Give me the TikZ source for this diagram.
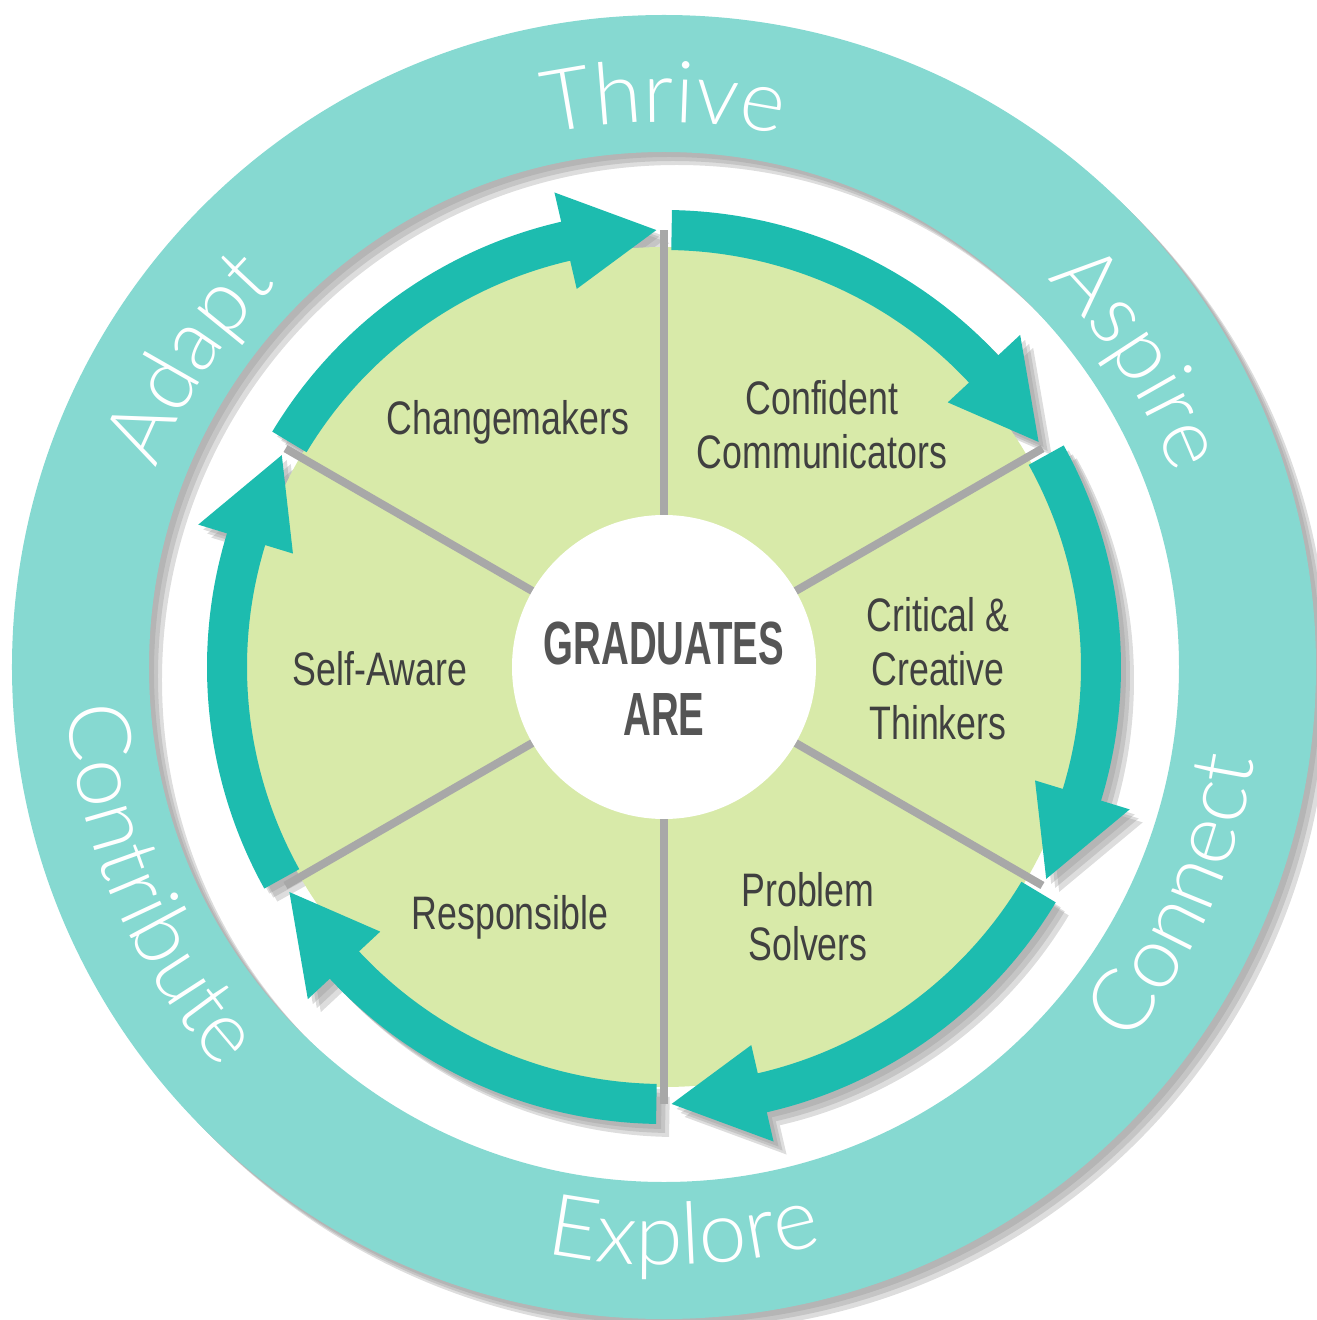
\documentclass[tikz,border=0pt]{standalone}
\usepackage{fontspec}
\setmainfont{Liberation Sans}
\newfontfamily\labelfont[FakeStretch=0.76]{Liberation Sans}
\newfontfamily\titlefont[FakeStretch=0.63]{Liberation Sans}
\newfontfamily\ringfont[LetterSpace=4]{Lato Light}
\usetikzlibrary{decorations.text}
\usetikzlibrary{positioning}

\definecolor{ringteal}{HTML}{86D9D1}
\definecolor{arrowteal}{HTML}{1DBCAF}
\definecolor{sectorgreen}{HTML}{D8EAA9}
\definecolor{dividergray}{HTML}{A8A8A8}
\definecolor{shadowgray}{HTML}{8E8E8E}
\definecolor{labelgray}{HTML}{404040}
\definecolor{titlegray}{HTML}{555555}

\tikzset{
  ringarrow/.style 2 args={insert path={
    (#1:457) arc[start angle=#1, end angle=#2+12, radius=457]
    -- (#2+12:487) -- (#2:437) -- (#2+12:388) -- (#2+12:417)
    arc[start angle=#2+12, end angle=#1, radius=417] -- cycle}},
  divider/.style={draw=dividergray, line width=8pt},
  sectorlabel/.style={text=labelgray, align=center, inner sep=0pt,
    font=\labelfont\fontsize{47}{54}\selectfont},
  titlelabel/.style={text=titlegray, align=center, inner sep=0pt,
    font=\titlefont\bfseries\fontsize{61}{71}\selectfont},
  ringword/.style={decorate, decoration={text along path, text align=center,
    text color=white, text={|\ringfont\fontsize{86}{86}\selectfont|#1}}},
}

\begin{document}
\begin{tikzpicture}[x=1pt, y=1pt]
\useasboundingbox (-664,-653) rectangle (653,667);

% outer ring
\foreach \s in {5,9,13}
  \fill[shadowgray, opacity=.3, even odd rule, shift={(\s,-\s)}]
    (0,0) circle[radius=652] (0,0) circle[radius=515];
\fill[ringteal, even odd rule] (0,0) circle[radius=652] (0,0) circle[radius=515];

\path[ringword=Thrive] (135:545) arc[start angle=135, end angle=45, radius=545];
\path[ringword=Aspire] (78:545) arc[start angle=78, end angle=-12, radius=545];
\path[ringword=Adapt] (192:545) arc[start angle=192, end angle=102, radius=545];
\path[ringword=Connect] (-74:598) arc[start angle=-74, end angle=26, radius=598];
\path[ringword=Explore] (-138:598) arc[start angle=-138, end angle=-38, radius=598];
\path[ringword=Contribute] (145:598) arc[start angle=145, end angle=261, radius=598];

% shadows of the arrows
\foreach \s in {5,9,13} {
  \begin{scope}[shift={(\s,-\s)}, fill=shadowgray, opacity=.3]
    \fill [ringarrow={149}{91}];
    \fill [ringarrow={89}{31}];
    \fill [ringarrow={29}{-29}];
    \fill [ringarrow={-31}{-89}];
    \fill [ringarrow={-91}{-149}];
    \fill [ringarrow={-151}{-209}];
  \end{scope}
}

% sectors
\fill[sectorgreen] (0,0) circle[radius=420];
\foreach \a in {30,90,150,210,270,330}
  \draw[divider] (0,0) -- (\a:437);

% arrows
\fill[arrowteal] [ringarrow={149}{91}];
\fill[arrowteal] [ringarrow={89}{31}];
\fill[arrowteal] [ringarrow={29}{-29}];
\fill[arrowteal] [ringarrow={-31}{-89}];
\fill[arrowteal] [ringarrow={-91}{-149}];
\fill[arrowteal] [ringarrow={-151}{-209}];

% hub
\node[circle, fill=white, minimum size=304pt, inner sep=0pt] (hub) at (0,0) {};
\node[titlelabel] (graduates) at (0,-12) {GRADUATES\\ARE};

\node[sectorlabel] (changemakers) at (-156,245) {Changemakers};
\node[sectorlabel] (communicators) at (158,242) {Confident\\Communicators};
\node[sectorlabel] (thinkers) at (274,-2) {Critical \&\\Creative\\Thinkers};
\node[sectorlabel] (solvers) at (144,-250) {Problem\\Solvers};
\node[sectorlabel] (responsible) at (-154,-250) {Responsible};
\node[sectorlabel] (selfaware) at (-284,-2) {Self-Aware};
\end{tikzpicture}
\end{document}
